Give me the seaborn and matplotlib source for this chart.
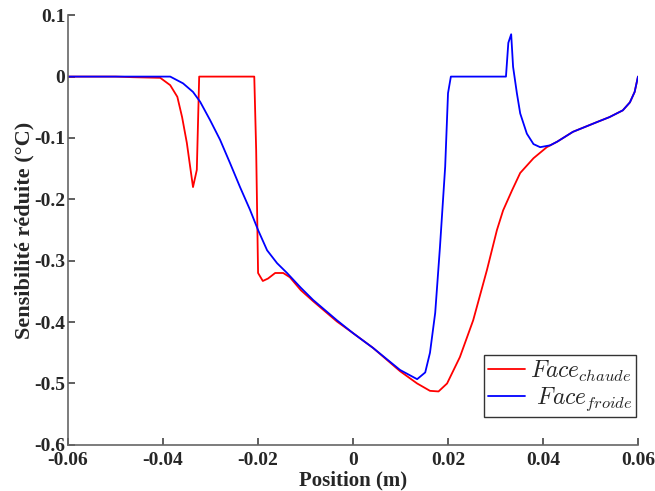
import numpy as np
import pandas as pd
import matplotlib
matplotlib.use("Agg")
import matplotlib.pyplot as plt
import seaborn as sns

# Face chaude (rouge)
x_chaude = [-0.06, -0.05, -0.0463, -0.0406, -0.0385, -0.0370, -0.0360, -0.0350, -0.0343, -0.0337,
            -0.0329, -0.0324, -0.0208, -0.0204, -0.0200, -0.0190, -0.0179, -0.0164, -0.0147, -0.0133,
            -0.0110, -0.0084, -0.0034, 0.0, 0.0042, 0.0099, 0.0135, 0.0162, 0.0180, 0.0198,
            0.0225, 0.0253, 0.0282, 0.0303, 0.0316, 0.0335, 0.0352, 0.0380, 0.0408, 0.0430,
            0.0463, 0.0514, 0.0540, 0.0568, 0.0583, 0.0593, 0.0600]
y_chaude = [0.0, 0.0, -0.001, -0.002, -0.014, -0.033, -0.066, -0.108, -0.147, -0.180,
            -0.152, 0.0, 0.0, -0.120, -0.320, -0.333, -0.329, -0.320, -0.320, -0.327,
            -0.348, -0.366, -0.399, -0.418, -0.442, -0.480, -0.500, -0.512, -0.513, -0.500,
            -0.457, -0.397, -0.315, -0.250, -0.218, -0.185, -0.157, -0.133, -0.115, -0.106,
            -0.090, -0.074, -0.066, -0.055, -0.042, -0.025, 0.0]

# Face froide (bleu)
x_froide = [-0.06, -0.0385, -0.0358, -0.0337, -0.0322, -0.0301, -0.0280, -0.0259, -0.0238, -0.0217,
            -0.0200, -0.0181, -0.0160, -0.0139, -0.0110, -0.0084, -0.0034, 0.0, 0.0042, 0.0099,
            0.0135, 0.0152, 0.0162, 0.0173, 0.0183, 0.0194, 0.0200, 0.0206, 0.0322, 0.0327,
            0.0333, 0.0337, 0.0345, 0.0352, 0.0366, 0.0380, 0.0394, 0.0415, 0.0430, 0.0463,
            0.0514, 0.0540, 0.0568, 0.0583, 0.0593, 0.0600]
y_froide = [0.0, 0.0, -0.011, -0.025, -0.041, -0.071, -0.103, -0.141, -0.180, -0.217,
            -0.250, -0.283, -0.304, -0.320, -0.344, -0.364, -0.397, -0.418, -0.442, -0.478,
            -0.493, -0.482, -0.450, -0.385, -0.278, -0.147, -0.027, 0.0, 0.0, 0.055,
            0.069, 0.016, -0.027, -0.060, -0.093, -0.110, -0.115, -0.112, -0.106, -0.090,
            -0.074, -0.066, -0.055, -0.042, -0.025, 0.0]

lab_chaude = r"$Face_{chaude}$"
lab_froide = r"$\ Face_{froide}$"

x_ticks = [-0.06, -0.04, -0.02, 0, 0.02, 0.04, 0.06]
x_ticklabels = ["-0.06", "-0.04", "-0.02", "0", "0.02", "0.04", "0.06"]
y_ticks = [0.1, 0, -0.1, -0.2, -0.3, -0.4, -0.5, -0.6]
y_ticklabels = ["0.1", "0", "-0.1", "-0.2", "-0.3", "-0.4", "-0.5", "-0.6"]

df = pd.concat([
    pd.DataFrame({"x": x_chaude, "y": y_chaude, "face": lab_chaude}),
    pd.DataFrame({"x": x_froide, "y": y_froide, "face": lab_froide}),
], ignore_index=True)

sns.set_style("white", {"xtick.bottom": True, "ytick.left": True,
                        "xtick.direction": "in", "ytick.direction": "in"})
plt.rcParams["font.family"] = ["Liberation Serif", "DejaVu Serif"]
plt.rcParams["mathtext.fontset"] = "cm"

fig = plt.figure(figsize=(6.55, 4.91), dpi=100)
ax = fig.add_axes([0.104, 0.094, 0.870, 0.875])

sns.lineplot(data=df, x="x", y="y", hue="face", palette=["#ff0000", "#0000ff"],
             sort=False, estimator=None, linewidth=1.3, ax=ax)

ax.set_xlim(-0.06, 0.06)
ax.set_ylim(-0.6, 0.1)
ax.set_xticks(x_ticks)
ax.set_xticklabels(x_ticklabels, fontweight="bold", fontsize=14)
ax.set_yticks(y_ticks)
ax.set_yticklabels(y_ticklabels, fontweight="bold", fontsize=14)
ax.tick_params(direction="in", length=5, color="#444444", width=1.2,
               bottom=True, left=True)
ax.tick_params(axis="x", pad=5)
ax.tick_params(axis="y", pad=2)
ax.set_xlabel("Position (m)", fontweight="bold", fontsize=15, labelpad=1)
ax.set_ylabel("Sensibilité réduite (°C)", fontweight="bold", fontsize=16, labelpad=0)

for side in ["top", "right"]:
    ax.spines[side].set_visible(False)
for side in ["left", "bottom"]:
    ax.spines[side].set_color("#666666")
    ax.spines[side].set_linewidth(1.2)

leg = ax.legend(loc="lower right", bbox_to_anchor=(0.997, 0.065), fontsize=17,
                frameon=True, fancybox=False, handlelength=1.6, handletextpad=0.2,
                borderpad=0.15, labelspacing=0.1, borderaxespad=0)
leg.get_frame().set_edgecolor("black")
leg.get_frame().set_linewidth(1.0)

fig.savefig("out.png", dpi=100)
